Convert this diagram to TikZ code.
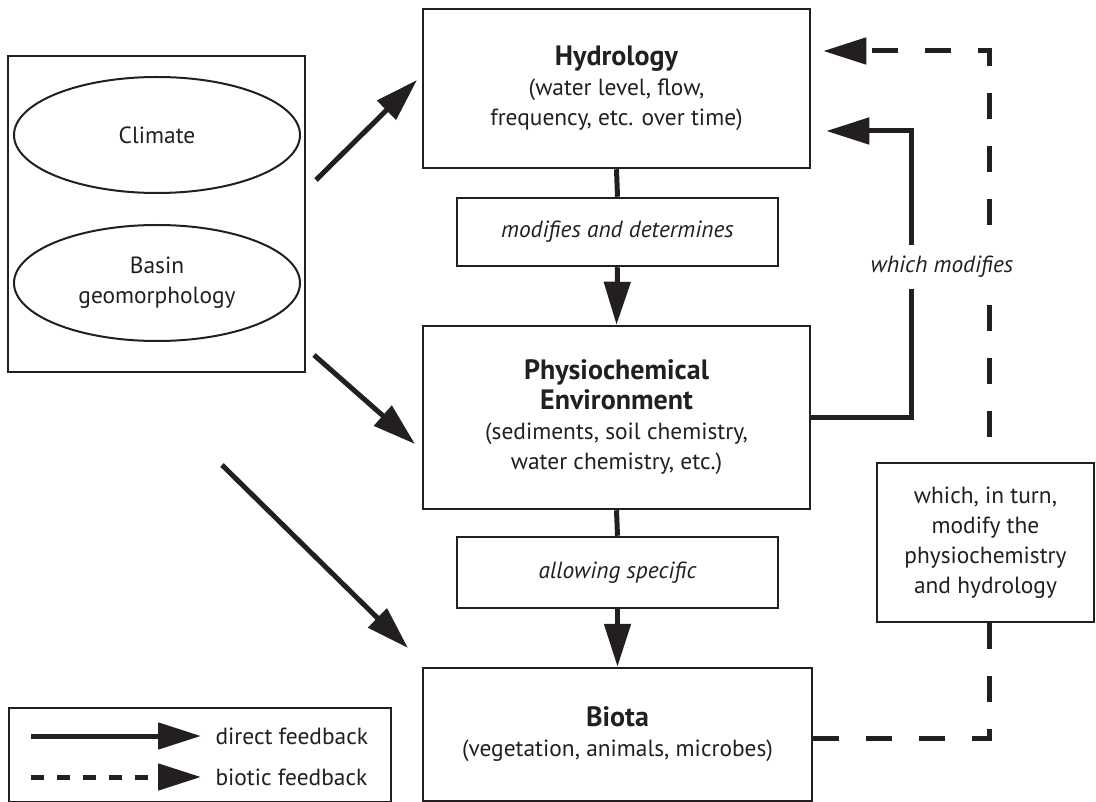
\documentclass[tikz,border=0pt]{standalone}
\usepackage{fontspec}
\setmainfont{PT Sans}
\usetikzlibrary{arrows.meta,shapes.geometric}
\pgfdeclarelayer{bg}
\pgfsetlayers{bg,main}
\definecolor{ink}{RGB}{35,31,32}
\newcommand\fsreg{\fontsize{23.4}{30}\selectfont}
\newcommand\fsttl{\fontsize{28}{33}\selectfont\bfseries}
\begin{document}
\begin{tikzpicture}[x=1pt,y=-1pt,
  box/.style={draw=ink,line width=2.5pt,fill=white,align=center,inner sep=0pt,text=ink,font=\fsreg},
  ell/.style={ellipse,draw=ink,line width=2pt,minimum width=286pt,minimum height=116pt,inner sep=0pt,align=center,text=ink,font=\fsreg},
  arr/.style={draw=ink,line width=5pt,-{Triangle[length=43pt,width=26pt]}},
  conn/.style={draw=ink,line width=5pt},
  bioarr/.style={draw=ink,line width=5pt,dash pattern=on 26pt off 27pt,-{Triangle[length=43pt,width=26pt]}},
  lab/.style={text=ink,font=\fsreg}]
\useasboundingbox (0,0) rectangle (1096,802);

% left group
\node[box,minimum width=297pt,minimum height=316pt] (env) at (156.5,214) {};
\node[ell] (climate) at (157,135) {Climate};
\node[ell] (basin) at (157,283) {Basin\\geomorphology};

% main column
\node[box,minimum width=387pt,minimum height=159pt] (hydro) at (616.5,88.5)
  {{\fsttl Hydrology}\\(water level, flow,\\frequency, etc. over time)};
\node[box,minimum width=321pt,minimum height=68pt,font=\fsreg\itshape] (modif) at (617.5,232) {modifies and determines};
\node[box,minimum width=387pt,minimum height=183pt] (physio) at (616.5,417.5)
  {{\fsttl Physiochemical}\\{\fsttl Environment}\\(sediments, soil chemistry,\\water chemistry, etc.)};
\node[box,minimum width=321pt,minimum height=71pt,font=\fsreg\itshape] (allow) at (617.5,572.5) {allowing specific};
\node[box,minimum width=389pt,minimum height=133pt] (biota) at (617.5,734.5)
  {{\fsttl Biota}\\(vegetation, animals, microbes)};

% right side
\node[box,minimum width=217pt,minimum height=159pt] (turn) at (985.5,542.5)
  {which, in turn,\\modify the\\physiochemistry\\and hydrology};
\node[lab,fill=white,font=\fsreg\itshape,minimum height=44pt,inner xsep=3pt] (wm) at (942,267) {which modifies};

% legend
\node[box,minimum width=382pt,minimum height=94pt] (legend) at (200,755) {};
\coordinate (l1s) at (31,736);
\coordinate (l1e) at (201,736);
\coordinate (l2s) at (31,777);
\coordinate (l2e) at (201,777);
\node[lab,anchor=west] (t1) at (212,736) {direct feedback};
\node[lab,anchor=west] (t2) at (212,777) {biotic feedback};

% connector coordinates
\coordinate (a1s) at (316,180);
\coordinate (a1e) at (417,80);
\coordinate (a2s) at (314,355);
\coordinate (a2e) at (415,444);
\coordinate (a3s) at (222,465);
\coordinate (a3e) at (408,648);
\coordinate (wmx) at (911,131);
\coordinate (bc1) at (989,738);
\coordinate (bc2) at (989,51);

\begin{pgfonlayer}{bg}
  \draw[arr] (a1s) -- (a1e);
  \draw[arr] (a2s) -- (a2e);
  \draw[arr] (a3s) -- (a3e);
  \draw[conn] (hydro.south) -- (modif.north);
  \draw[arr] (modif.south) -- (physio.north);
  \draw[conn] (physio.south) -- (allow.north);
  \draw[arr] (allow.south) -- (biota.north);
  \draw[arr,shorten >=15pt] (physio.east) -| (wmx) -- (hydro.east |- wmx);
  \draw[bioarr,shorten >=12pt] (biota.east |- bc1) -- (bc1) -- (bc2) -- (hydro.east |- bc2);
\end{pgfonlayer}
\draw[arr] (l1s) -- (l1e);
\draw[draw=ink,line width=5pt,dash pattern=on 13pt off 13pt,-{Triangle[length=43pt,width=26pt]}] (l2s) -- (l2e);
\end{tikzpicture}
\end{document}
